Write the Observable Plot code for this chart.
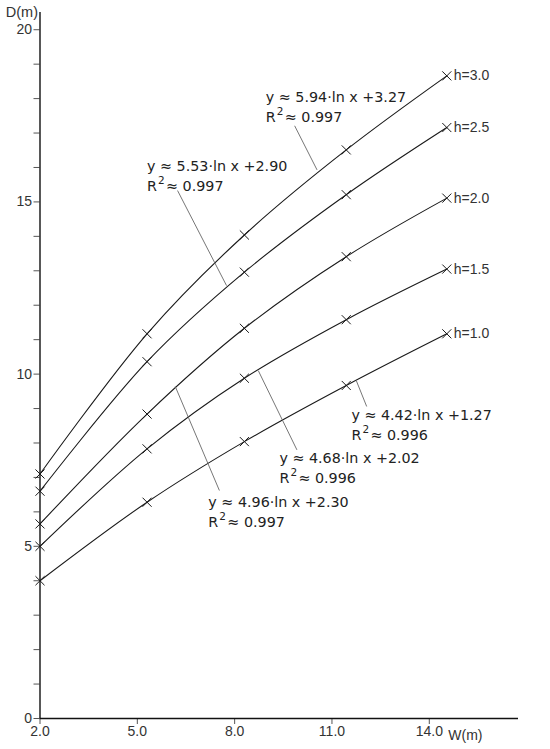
<!DOCTYPE html>
<html>
<head>
<meta charset="utf-8">
<script src="https://cdn.jsdelivr.net/npm/d3@7"></script>
<script src="https://cdn.jsdelivr.net/npm/@observablehq/plot@0.6"></script>
<style>
  html, body { margin: 0; padding: 0; background: #fff; }
</style>
</head>
<body>
<div id="chart"></div>
<script>
// ---- data ----
const W = [2, 5.3, 8.3, 11.44, 14.54];            // marker positions along W (m)
const seriesNames = ["h=3.0", "h=2.5", "h=2.0", "h=1.5", "h=1.0"];
const D_h30 = [7.1, 11.17, 14.04, 16.51, 18.66];
const D_h25 = [6.6, 10.36, 12.96, 15.21, 17.16];
const D_h20 = [5.65, 8.84, 11.33, 13.41, 15.11];
const D_h15 = [5.0, 7.83, 9.88, 11.58, 13.05];
const D_h10 = [4.0, 6.28, 8.04, 9.67, 11.17];
const xTicks = [2, 5, 8, 11, 14];
const yTicks = d3.range(0, 21);

// fit annotations
const eqText = ["y ≈ 5.94·ln x +3.27", "y ≈ 5.53·ln x +2.90", "y ≈ 4.96·ln x +2.30", "y ≈ 4.68·ln x +2.02", "y ≈ 4.42·ln x +1.27"];
const r2Value = ["≈ 0.997", "≈ 0.997", "≈ 0.997", "≈ 0.996", "≈ 0.996"];
const eqX = [8.96, 5.30, 7.19, 9.38, 11.60];
const eqY = [18.03, 16.02, 6.27, 7.55, 8.80];
const leadX1 = [9.85, 6.24, 6.17, 8.73, 11.75];
const leadY1 = [17.21, 15.33, 9.64, 10.10, 9.81];
const leadX2 = [10.54, 7.75, 7.53, 9.92, 12.07];
const leadY2 = [15.93, 12.57, 6.62, 7.80, 9.06];

// ---- tables ----
const allD = [D_h30, D_h25, D_h20, D_h15, D_h10];
const rows = seriesNames.flatMap((h, i) => W.map((w, j) => ({h, w, d: allD[i][j]})));
const ends = seriesNames.map((h, i) => ({h, w: W[W.length - 1], d: allD[i][W.length - 1]}));
const ann = eqText.map((t, i) => ({eq: t, r2: r2Value[i], x: eqX[i], y: eqY[i],
  x1: leadX1[i], y1: leadY1[i], x2: leadX2[i], y2: leadY2[i]}));

const xMax = 16.75, yMax = 20.5;
const annFont = "'DejaVu Sans', Verdana, sans-serif";

const chart = Plot.plot({
  width: 550,
  height: 749,
  marginLeft: 39.5,
  marginRight: 32,
  marginTop: 12,
  marginBottom: 31,
  x: {domain: [2, xMax]},
  y: {domain: [0, yMax]},
  style: {fontFamily: "'Liberation Sans', Arial, sans-serif", fontSize: "14px", background: "#fff", color: "#222"},
  marks: [
    Plot.axisY({ticks: yTicks, tickSize: 6, tickPadding: 2, fontSize: 14, label: null,
      tickFormat: d => d % 5 === 0 ? String(d) : "", stroke: "#555", fill: "#333"}),
    Plot.axisX({ticks: xTicks, tickSize: 6, tickPadding: 2, fontSize: 14, label: null,
      tickFormat: d3.format(".1f"), stroke: "#555", fill: "#333"}),
    Plot.ruleX([2], {y1: 0, y2: yMax, stroke: "#111", strokeWidth: 1.4}),
    Plot.ruleY([0], {x1: 2, x2: xMax, stroke: "#111", strokeWidth: 1.4}),
    Plot.text(["D(m)"], {frameAnchor: "top-left", dx: -2, dy: 0, textAnchor: "end", lineAnchor: "middle", fontSize: 14.5, fill: "#333"}),
    Plot.text(["W(m)"], {x: xTicks[xTicks.length - 1], y: 0, dx: 19, dy: 17, textAnchor: "start", lineAnchor: "middle", fontSize: 14, fill: "#333"}),
    Plot.line(rows, {x: "w", y: "d", z: "h", curve: "catmull-rom", stroke: "#1a1a1a", strokeWidth: 1.1}),
    Plot.dot(rows, {x: "w", y: "d", symbol: "times", r: 4.2, stroke: "#1a1a1a", strokeWidth: 1}),
    Plot.text(ends, {x: "w", y: "d", text: "h", dx: 7, textAnchor: "start", lineAnchor: "middle", fontSize: 14, fill: "#333"}),
    Plot.link(ann, {x1: "x1", y1: "y1", x2: "x2", y2: "y2", stroke: "#666", strokeWidth: 0.9}),
    Plot.text(ann, {x: "x", y: "y", text: "eq", textAnchor: "start", lineAnchor: "middle", fontSize: 14.3, fontFamily: annFont, fill: "#222"}),
    Plot.text(ann, {x: "x", y: "y", dy: 19.5, text: () => "R", textAnchor: "start", lineAnchor: "middle", fontSize: 14.3, fontFamily: annFont, fill: "#222"}),
    Plot.text(ann, {x: "x", y: "y", dx: 11, dy: 14, text: () => "2", textAnchor: "start", lineAnchor: "middle", fontSize: 10.5, fontFamily: annFont, fill: "#222"}),
    Plot.text(ann, {x: "x", y: "y", dx: 19, dy: 19.5, text: "r2", textAnchor: "start", lineAnchor: "middle", fontSize: 14.3, fontFamily: annFont, fill: "#222"})
  ]
});
document.getElementById("chart").appendChild(chart);
</script>
</body>
</html>
